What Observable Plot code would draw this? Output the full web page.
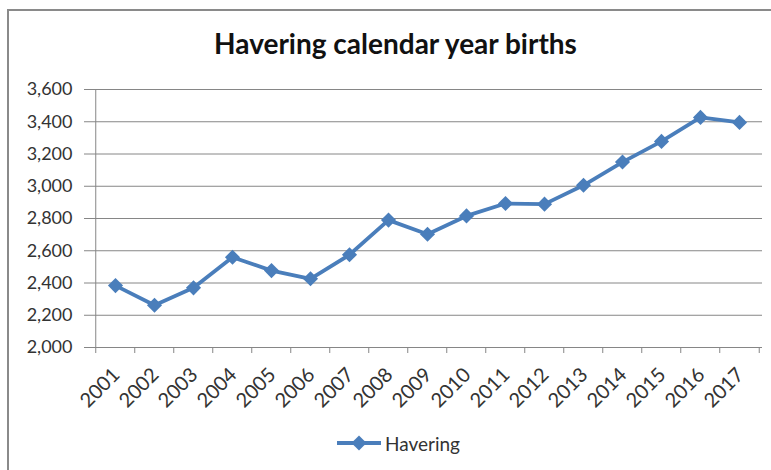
<!DOCTYPE html>
<html>
<head>
<meta charset="utf-8">
<script src="https://cdn.jsdelivr.net/npm/d3@7"></script>
<script src="https://cdn.jsdelivr.net/npm/@observablehq/plot@0.6"></script>
<style>
  html, body { margin: 0; padding: 0; background: #fff; width: 771px; height: 470px; overflow: hidden; }
  #frame { position: absolute; left: 7px; top: 9px; width: 800px; height: 500px;
           border-left: 2px solid #8a8a8a; border-top: 2px solid #8a8a8a; }
  #title { position: absolute; left: 0; width: 791px; top: 27px; text-align: center;
           font-family: Lato, sans-serif; font-weight: bold; font-size: 28px; line-height: 32px; color: #111; }
  #chart { position: absolute; left: 0; top: 70px; }
  #legend { position: absolute; left: 337px; top: 430px; height: 26px; display: flex; align-items: center;
            font-family: Lato, sans-serif; font-size: 19px; color: #333; }
  #legend svg { margin-right: 2px; }
</style>
</head>
<body>
<div id="frame"></div>
<div id="title">Havering calendar year births</div>
<div id="chart"></div>
<div id="legend"></div>
<script>
const years = ["2001","2002","2003","2004","2005","2006","2007","2008","2009","2010","2011","2012","2013","2014","2015","2016","2017"];
const births = [2384, 2262, 2370, 2560, 2477, 2426, 2575, 2790, 2702, 2816, 2893, 2889, 3006, 3150, 3278, 3427, 3396];
const yTicks = [2000, 2200, 2400, 2600, 2800, 3000, 3200, 3400, 3600];
const seriesName = "Havering";

const blue = "#4A7EBB";
const gridColor = "#868686";
const data = years.map((year, i) => ({year, births: births[i]}));

const W = 771, H = 340, mL = 91, mR = 9, mT = 19, mB = 63;
const step = (W - mL - mR) / years.length;
const last = years[years.length - 1];

const chart = Plot.plot({
  width: W, height: H,
  marginLeft: mL, marginRight: mR, marginTop: mT, marginBottom: mB,
  x: {type: "point", domain: years, padding: 0.5, axis: null},
  y: {domain: [2000, 3600], axis: null},
  style: {fontFamily: "Lato, sans-serif", fontSize: "18px", color: "#333", background: "transparent", overflow: "visible"},
  marks: [
    Plot.gridY(yTicks, {stroke: gridColor, strokeOpacity: 1}),
    Plot.axisY({ticks: yTicks, tickFormat: d3.format(","), tickSize: 7, tickPadding: 12, stroke: gridColor, fill: "#333", label: null}),
    Plot.ruleX([years[0]], {x: d => d, y1: 2000, y2: 3600, dx: -step / 2, stroke: gridColor}),
    Plot.ruleX(years, {x: d => d, y1: 2000, y2: 2000, insetBottom: -6, dx: -step / 2, stroke: gridColor}),
    Plot.ruleX([last], {x: d => d, y1: 2000, y2: 2000, insetBottom: -6, dx: step / 2, stroke: gridColor}),
    Plot.axisX({ticks: years, tickSize: 0, tickRotate: -45, tickPadding: 24, dx: 1, fill: "#333", fontSize: 20, label: null}),
    Plot.line(data, {x: "year", y: "births", stroke: blue, strokeWidth: 3.8}),
    Plot.dot(data, {x: "year", y: "births", symbol: "diamond2", r: 6.8, fill: blue, stroke: "none"})
  ]
});
document.getElementById("chart").appendChild(chart);

const legend = document.getElementById("legend");
legend.innerHTML = `<svg width="46" height="20"><line x1="0" y1="10" x2="44" y2="10" stroke="${blue}" stroke-width="3.8"/>` +
  `<path d="${d3.symbol(d3.symbolDiamond2, Math.PI * 6.8 * 6.8)()}" transform="translate(22,10)" fill="${blue}"/></svg>` +
  `<span>${seriesName}</span>`;
</script>
</body>
</html>
